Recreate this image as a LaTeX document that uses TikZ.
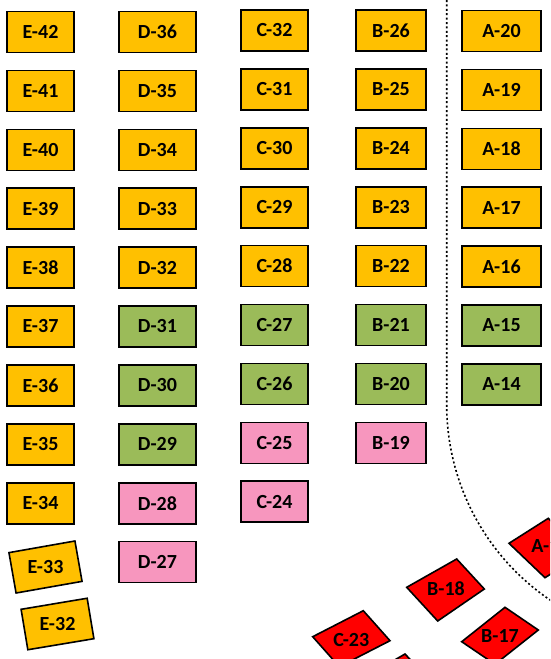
\documentclass[tikz,border=0pt]{standalone}
\usepackage{fontspec}
\setmainfont{Carlito}
\definecolor{seatO}{HTML}{FFC000}
\definecolor{seatG}{HTML}{9BBB59}
\definecolor{seatP}{RGB}{247,150,190}
\definecolor{seatR}{HTML}{FF0000}
\tikzset{
  seat/.style={draw=black, line width=1.6pt, minimum height=41pt, inner sep=0pt,
    font=\fontsize{20}{22}\selectfont\bfseries},
  lbl/.style={inner sep=0pt, font=\fontsize{20}{22}\selectfont\bfseries},
  so/.style={seat, fill=seatO},
  sg/.style={seat, fill=seatG},
  sp/.style={seat, fill=seatP},
  redp/.style={draw=black, line width=1.6pt, fill=seatR, line join=miter},
  colE/.style={minimum width=67pt},
  colD/.style={minimum width=77pt},
  colC/.style={minimum width=67pt},
  colB/.style={minimum width=70pt},
  colA/.style={minimum width=79pt},
  dotline/.style={draw=black, line width=1.6pt, dash pattern=on 2pt off 2.4pt}
}
\begin{document}
\begin{tikzpicture}[x=1pt,y=1pt]
\useasboundingbox (0,0) rectangle (550,-659);
\clip (0,0) rectangle (550,-659);

% dotted boundary
\coordinate (dtop) at (446.7,0);
\coordinate (dbend) at (446.7,-405);
\draw[dotline] (dtop) -- (dbend) arc[start angle=180, end angle=240, radius=235.6];

% column E
\node[so,colE] (e42) at (40.5,-32) {E-42};
\node[so,colE] (e41) at (40.5,-90.9) {E-41};
\node[so,colE] (e40) at (40.5,-149.8) {E-40};
\node[so,colE] (e39) at (40.5,-208.7) {E-39};
\node[so,colE] (e38) at (40.5,-267.6) {E-38};
\node[so,colE] (e37) at (40.5,-326.5) {E-37};
\node[so,colE] (e36) at (40.5,-385.4) {E-36};
\node[so,colE] (e35) at (40.5,-444.3) {E-35};
\node[so,colE] (e34) at (40.5,-503.2) {E-34};
\node[so,colE,rotate=10] (e33box) at (45.5,-567) {};
\node[lbl] (e33) at (e33box.center) {E-33};
\node[so,colE,rotate=9.5] (e32box) at (57.5,-624) {};
\node[lbl] (e32) at (e32box.center) {E-32};

% column D
\node[so,colD] (d36) at (157.5,-32) {D-36};
\node[so,colD] (d35) at (157.5,-90.9) {D-35};
\node[so,colD] (d34) at (157.5,-149.8) {D-34};
\node[so,colD] (d33) at (157.5,-208.7) {D-33};
\node[so,colD] (d32) at (157.5,-267.6) {D-32};
\node[sg,colD] (d31) at (157.5,-326.5) {D-31};
\node[sg,colD] (d30) at (157.5,-385.4) {D-30};
\node[sg,colD] (d29) at (157.5,-444.3) {D-29};
\node[sp,colD] (d28) at (157.5,-503.2) {D-28};
\node[sp,colD] (d27) at (157.5,-562.1) {D-27};

% column C
\node[so,colC] (c32) at (274.5,-30.5) {C-32};
\node[so,colC] (c31) at (274.5,-89.4) {C-31};
\node[so,colC] (c30) at (274.5,-148.3) {C-30};
\node[so,colC] (c29) at (274.5,-207.2) {C-29};
\node[so,colC] (c28) at (274.5,-266.1) {C-28};
\node[sg,colC] (c27) at (274.5,-325) {C-27};
\node[sg,colC] (c26) at (274.5,-383.9) {C-26};
\node[sp,colC] (c25) at (274.5,-442.8) {C-25};
\node[sp,colC] (c24) at (274.5,-501.7) {C-24};

% column B
\node[so,colB] (b26) at (391,-30.5) {B-26};
\node[so,colB] (b25) at (391,-89.4) {B-25};
\node[so,colB] (b24) at (391,-148.3) {B-24};
\node[so,colB] (b23) at (391,-207.2) {B-23};
\node[so,colB] (b22) at (391,-266.1) {B-22};
\node[sg,colB] (b21) at (391,-325) {B-21};
\node[sg,colB] (b20) at (391,-383.9) {B-20};
\node[sp,colB] (b19) at (391,-442.8) {B-19};

% column A
\node[so,colA] (a20) at (501.5,-31) {A-20};
\node[so,colA] (a19) at (501.5,-89.9) {A-19};
\node[so,colA] (a18) at (501.5,-148.8) {A-18};
\node[so,colA] (a17) at (501.5,-207.7) {A-17};
\node[so,colA] (a16) at (501.5,-266.6) {A-16};
\node[sg,colA] (a15) at (501.5,-325.5) {A-15};
\node[sg,colA] (a14) at (501.5,-384.4) {A-14};

% red tilted seats
\draw[redp] (584.4,-552.7) -- (548.3,-518.3) -- (509,-543.3) -- (545,-577.7) -- cycle;
\node[lbl] (a13) at (550.5,-546) {A-13};
\draw[redp] (484.3,-589) -- (456.7,-559) -- (406.7,-587.3) -- (437.7,-621) -- cycle;
\node[lbl] (b18) at (446,-589) {B-18};
\draw[redp] (538.3,-630) -- (505,-607.3) -- (461.7,-641.7) -- (495,-664.3) -- cycle;
\node[lbl] (b17) at (500,-636) {B-17};
\draw[redp] (390,-640.7) -- (363.3,-610.7) -- (312.7,-636.7) -- (339.3,-666.7) -- cycle;
\node[lbl] (c23) at (351.3,-640) {C-23};
\draw[redp] (433.5,-684) -- (405,-654) -- (356.5,-682) -- (385,-712) -- cycle;
\end{tikzpicture}
\end{document}
